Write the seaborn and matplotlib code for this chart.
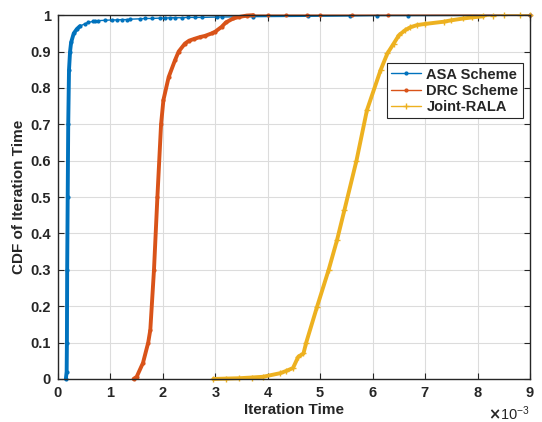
import numpy as np
import pandas as pd
import matplotlib
matplotlib.use("Agg")
import matplotlib.pyplot as plt
import seaborn as sns
from matplotlib.ticker import FixedLocator, FixedFormatter

# ---- data: empirical CDF of iteration time (time in ms) ----
series_names = ["ASA Scheme", "DRC Scheme", "Joint-RALA"]

asa_time_ms = [0.15, 0.165, 0.17, 0.175, 0.185, 0.195, 0.21, 0.23, 0.25, 0.30,
               0.36, 0.42, 0.52, 0.57, 0.67, 0.71, 0.76, 0.90, 1.03, 1.13,
               1.22, 1.32, 1.37, 1.56, 1.66, 1.79, 1.95, 2.04, 2.14, 2.23,
               2.36, 2.48, 2.61, 2.74, 3.03, 3.12, 3.72, 4.77, 5.57, 6.08,
               6.68, 9.0]
asa_cdf = [0.0, 0.02, 0.10, 0.30, 0.50, 0.70, 0.85, 0.90, 0.925, 0.95,
           0.962, 0.970, 0.977, 0.980, 0.983, 0.984, 0.985, 0.986, 0.987, 0.987,
           0.988, 0.988, 0.989, 0.990, 0.991, 0.991, 0.992, 0.992, 0.993, 0.993,
           0.993, 0.994, 0.994, 0.994, 0.995, 0.995, 0.996, 0.997, 0.998, 0.999,
           0.999, 1.0]

drc_time_ms = [1.44, 1.50, 1.62, 1.72, 1.76, 1.83, 1.895, 1.965, 2.01, 2.11,
               2.23, 2.30, 2.42, 2.50, 2.60, 2.71, 2.80, 2.93, 3.00, 3.12,
               3.20, 3.34, 3.45, 3.60, 3.72, 4.0, 4.35, 4.75, 5.0, 5.6,
               6.3, 9.0]
drc_cdf = [0.0, 0.006, 0.044, 0.10, 0.135, 0.30, 0.50, 0.70, 0.767, 0.83,
           0.876, 0.900, 0.922, 0.930, 0.935, 0.940, 0.943, 0.950, 0.955, 0.968,
           0.980, 0.991, 0.995, 0.999, 1.0, 1.0, 1.0, 1.0, 1.0, 1.0,
           1.0, 1.0]

rala_time_ms = [2.96, 3.2, 3.45, 3.7, 3.91, 4.24, 4.35, 4.48, 4.58, 4.68,
                4.73, 4.94, 5.16, 5.32, 5.46, 5.69, 5.89, 6.15, 6.28, 6.40,
                6.50, 6.62, 6.72, 6.85, 7.0, 7.35, 7.5, 7.73, 7.9, 8.11,
                8.3, 8.5, 8.8, 9.0]
rala_cdf = [0.0, 0.001, 0.002, 0.004, 0.006, 0.016, 0.022, 0.03, 0.061, 0.07,
            0.099, 0.199, 0.30, 0.382, 0.464, 0.60, 0.739, 0.849, 0.895, 0.922,
            0.945, 0.959, 0.967, 0.973, 0.976, 0.982, 0.986, 0.991, 0.994, 0.997,
            0.999, 1.0, 1.0, 1.0]

y_ticks = [0, 0.1, 0.2, 0.3, 0.4, 0.5, 0.6, 0.7, 0.8, 0.9, 1.0]
y_tick_labels = ["0", "0.1", "0.2", "0.3", "0.4", "0.5", "0.6", "0.7", "0.8", "0.9", "1"]
x_ticks_ms = [0, 1, 2, 3, 4, 5, 6, 7, 8, 9]

# ---- style ----
sns.set_style("ticks")
plt.rcParams["font.family"] = ["Liberation Sans", "DejaVu Sans"]
plt.rcParams["font.weight"] = "bold"
plt.rcParams["axes.labelweight"] = "bold"

colors = ["#0072BD", "#D95319", "#EDB120"]
markers = [".", ".", "+"]
marker_sizes = [4, 4, 4]
# sampling is dense up to these times, which makes the curve look heavy there
dense_until_ms = [0.42, 3.72, 8.11]

fig, ax = plt.subplots(figsize=(5.42, 4.22), dpi=100)
fig.subplots_adjust(left=0.107, right=0.978, bottom=0.102, top=0.964)

all_series = [(asa_time_ms, asa_cdf), (drc_time_ms, drc_cdf), (rala_time_ms, rala_cdf)]
for (t_ms, cdf), name, col, mk, ms, dense in zip(all_series, series_names, colors,
                                                 markers, marker_sizes, dense_until_ms):
    df = pd.DataFrame({"time": np.asarray(t_ms) * 1e-3, "cdf": cdf})
    sns.lineplot(data=df, x="time", y="cdf", ax=ax, color=col, lw=1.0,
                 marker=mk, markersize=ms, markeredgewidth=1.0,
                 markeredgecolor=col, label=name, sort=False, estimator=None,
                 clip_on=False)
    heavy = df[df["time"] <= dense * 1e-3]
    sns.lineplot(data=heavy, x="time", y="cdf", ax=ax, color=col, lw=2.8,
                 sort=False, estimator=None, legend=False, clip_on=False,
                 solid_joinstyle="round", solid_capstyle="round")

ax.set_xlim(0, 9e-3)
ax.set_ylim(0, 1)
ax.xaxis.set_major_locator(FixedLocator([v * 1e-3 for v in x_ticks_ms]))
ax.ticklabel_format(axis="x", style="sci", scilimits=(0, 0), useMathText=True)
ax.yaxis.set_major_locator(FixedLocator(y_ticks))
ax.yaxis.set_major_formatter(FixedFormatter(y_tick_labels))

ax.grid(True, color="#dcdcdc", lw=0.8)
ax.set_axisbelow(True)
for sp in ax.spines.values():
    sp.set_visible(True)
    sp.set_color("#262626")
    sp.set_linewidth(1.0)
ax.tick_params(direction="in", top=True, right=True, length=4, width=0.8,
               labelsize=10.5, colors="#262626", pad=5)
for lbl in ax.get_xticklabels() + ax.get_yticklabels():
    lbl.set_fontweight("bold")
ax.xaxis.get_offset_text().set_fontsize(10.5)
ax.xaxis.get_offset_text().set_fontweight("normal")

ax.set_xlabel("Iteration Time", fontsize=11, fontweight="bold", labelpad=2)
ax.set_ylabel("CDF of Iteration Time", fontsize=11, fontweight="bold", labelpad=3)

leg = ax.legend(loc="upper right", bbox_to_anchor=(0.985, 0.868), frameon=True,
                fancybox=False, framealpha=1, edgecolor="#262626",
                prop={"weight": "bold", "size": 10.5}, numpoints=1,
                handlelength=2.0, handletextpad=0.4, borderpad=0.3,
                labelspacing=0.15, borderaxespad=0)
leg.get_frame().set_linewidth(0.8)

fig.savefig("out.png", dpi=100)
